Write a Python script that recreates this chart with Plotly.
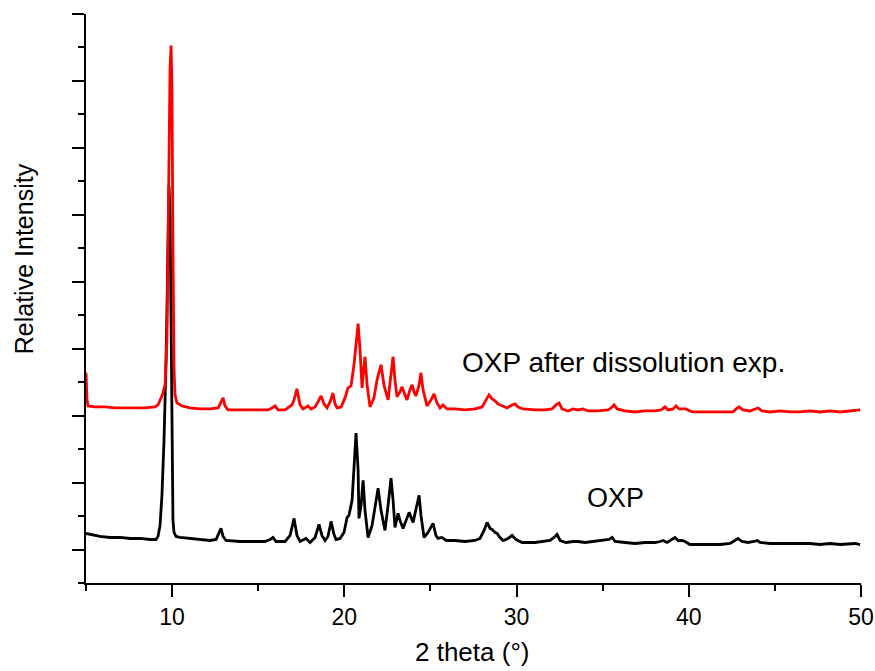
import plotly.graph_objects as go

# ---- data (2theta in degrees, intensity in arbitrary counts) ----
oxp_2theta = [5.00, 5.23, 5.52, 5.81, 6.39, 6.97, 7.56, 8.14, 8.72, 9.06, 9.18, 9.30, 9.41, 9.53, 9.65, 9.70,
              9.76, 9.82, 9.88, 9.94, 9.99, 10.05, 10.11, 10.23, 10.46, 11.04, 11.62, 12.20, 12.55, 12.72, 12.84,
              12.96, 13.13, 13.94, 14.81, 15.39, 15.69, 15.86, 16.03, 16.56, 16.85, 17.08, 17.25, 17.43, 17.78,
              18.01, 18.30, 18.53, 18.70, 18.88, 19.05, 19.23, 19.40, 19.52, 19.75, 19.98, 20.16, 20.27, 20.45,
              20.68, 20.80, 20.85, 20.97, 21.09, 21.20, 21.38, 21.61, 21.78, 21.96, 22.13, 22.36, 22.54, 22.71,
              22.83, 22.94, 23.12, 23.23, 23.41, 23.58, 23.76, 23.99, 24.16, 24.34, 24.45, 24.63, 24.86, 24.98,
              25.15, 25.32, 25.44, 25.67, 25.91, 26.43, 27.01, 27.59, 27.88, 28.11, 28.29, 28.46, 28.58, 28.75,
              28.87, 29.04, 29.22, 29.51, 29.74, 29.97, 30.32, 31.07, 31.65, 31.94, 32.18, 32.35, 32.53, 32.87,
              33.28, 33.57, 33.98, 34.56, 35.14, 35.37, 35.55, 35.72, 36.30, 36.88, 37.46, 38.04, 38.33, 38.51,
              38.74, 39.03, 39.20, 39.38, 39.61, 39.78, 40.07, 40.66, 41.24, 41.82, 42.40, 42.69, 42.86, 43.09,
              43.44, 43.79, 43.97, 44.14, 44.72, 45.30, 45.88, 46.46, 47.04, 47.62, 48.20, 48.79, 49.37, 49.66,
              49.95]
oxp_intensity = [240, 225, 210, 195, 180, 180, 165, 165, 150, 150, 195, 360, 810, 1635, 2835, 3735,
                 4785, 5430, 5010, 3285, 1335, 435, 255, 195, 180, 165, 150, 135, 150, 240, 315,
                 195, 135, 120, 120, 120, 150, 180, 120, 120, 210, 465, 210, 120, 165,
                 105, 180, 375, 210, 135, 195, 420, 225, 150, 165, 255, 480, 510, 735,
                 1740, 1185, 465, 660, 1035, 585, 180, 360, 660, 915, 585, 285, 660, 1065,
                 735, 330, 540, 435, 315, 435, 555, 405, 585, 810, 510, 180, 255, 315,
                 390, 210, 165, 180, 135, 135, 120, 135, 165, 285, 405, 315, 300, 255,
                 240, 180, 135, 165, 210, 150, 105, 105, 120, 135, 180, 225, 135, 105,
                 120, 120, 105, 120, 135, 150, 180, 120, 105, 90, 105, 105, 120, 135,
                 105, 150, 180, 135, 135, 120, 75, 75, 75, 75, 90, 135, 165, 120,
                 105, 120, 135, 105, 90, 90, 90, 90, 90, 75, 90, 75, 90, 90,
                 75]

after_2theta = [5.00, 5.06, 5.12, 5.52, 6.10, 6.68, 7.26, 7.85, 8.43, 9.01, 9.18, 9.36, 9.47, 9.59, 9.70,
                9.76, 9.82, 9.88, 9.94, 9.99, 10.05, 10.11, 10.17, 10.28, 10.57, 11.04, 11.62, 12.20, 12.67,
                12.84, 12.96, 13.07, 13.25, 13.94, 14.81, 15.57, 15.80, 15.98, 16.15, 16.56, 16.96, 17.08,
                17.25, 17.43, 17.60, 17.89, 18.07, 18.30, 18.47, 18.65, 18.82, 18.99, 19.17, 19.34, 19.46,
                19.58, 19.81, 20.04, 20.21, 20.39, 20.56, 20.80, 20.91, 21.03, 21.09, 21.20, 21.32, 21.49,
                21.72, 21.90, 22.13, 22.30, 22.54, 22.65, 22.83, 22.94, 23.06, 23.23, 23.35, 23.52, 23.64,
                23.81, 23.93, 24.05, 24.16, 24.34, 24.45, 24.57, 24.80, 25.03, 25.21, 25.38, 25.56, 25.73,
                25.96, 26.43, 27.01, 27.59, 28.00, 28.23, 28.40, 28.58, 28.75, 28.92, 29.16, 29.45, 29.74,
                29.91, 30.09, 30.38, 31.07, 31.65, 32.06, 32.29, 32.47, 32.64, 32.99, 33.28, 33.57, 33.86,
                34.15, 34.73, 35.31, 35.49, 35.66, 35.84, 36.30, 36.88, 37.46, 38.04, 38.39, 38.62, 38.80,
                39.09, 39.26, 39.44, 39.67, 39.84, 40.07, 40.25, 40.95, 41.82, 42.57, 42.75, 42.92, 43.15,
                43.56, 43.85, 44.02, 44.25, 44.72, 45.30, 45.88, 46.46, 47.04, 47.62, 48.20, 48.79, 49.37,
                49.66, 49.95]
after_intensity = [2640, 2235, 2145, 2130, 2130, 2115, 2115, 2115, 2115, 2130, 2160, 2265, 2340, 2460, 3135,
                   4485, 5985, 7185, 7530, 6885, 4485, 2685, 2310, 2190, 2145, 2115, 2100, 2100, 2115,
                   2205, 2265, 2145, 2085, 2085, 2085, 2085, 2115, 2145, 2085, 2085, 2160, 2235,
                   2400, 2160, 2100, 2145, 2100, 2130, 2205, 2295, 2175, 2115, 2205, 2340, 2175,
                   2115, 2130, 2265, 2415, 2445, 2760, 3375, 2985, 2415, 2610, 2880, 2460, 2130,
                   2265, 2535, 2760, 2460, 2235, 2505, 2880, 2535, 2280, 2355, 2430, 2310, 2235,
                   2385, 2460, 2355, 2295, 2460, 2640, 2385, 2145, 2235, 2325, 2190, 2115, 2160,
                   2100, 2100, 2085, 2100, 2130, 2235, 2310, 2250, 2220, 2175, 2145, 2115, 2160,
                   2175, 2130, 2100, 2085, 2085, 2100, 2160, 2190, 2100, 2070, 2100, 2085, 2100,
                   2070, 2070, 2085, 2115, 2160, 2100, 2070, 2055, 2070, 2070, 2085, 2130, 2085,
                   2100, 2145, 2100, 2100, 2100, 2070, 2055, 2055, 2055, 2055, 2100, 2130, 2085,
                   2070, 2100, 2115, 2070, 2055, 2070, 2055, 2055, 2070, 2055, 2070, 2055, 2070,
                   2085, 2085]

x_ticks = [10, 20, 30, 40, 50]
x_tick_labels = ["10", "20", "30", "40", "50"]
labels = {"oxp": "OXP", "after": "OXP after dissolution exp."}

FONT = "Liberation Sans, Arial, sans-serif"
TICKFONT = "Liberation Sans Narrow, Arial Narrow, Liberation Sans, Arial, sans-serif"

fig = go.Figure()
fig.add_trace(go.Scatter(x=oxp_2theta, y=oxp_intensity, mode="lines", name=labels["oxp"],
                         line=dict(color="#000000", width=2.8), showlegend=False))
fig.add_trace(go.Scatter(x=after_2theta, y=after_intensity, mode="lines", name=labels["after"],
                         line=dict(color="#ff0000", width=2.8), showlegend=False))

fig.add_annotation(x=26.72, y=2790, xref="x", yref="y", text=labels["after"], showarrow=False,
                   xanchor="left", yanchor="middle", font=dict(family=FONT, size=28, color="#000000"))
fig.add_annotation(x=35.72, y=765, xref="x", yref="y", text=labels["oxp"], showarrow=False,
                   xanchor="center", yanchor="middle", font=dict(family=FONT, size=27, color="#000000"))
fig.add_annotation(x=-0.080, y=0.569, xref="paper", yref="paper", text="Relative Intensity",
                   showarrow=False, textangle=-90, xanchor="center", yanchor="middle",
                   font=dict(family=FONT, size=25, color="#000000"))
fig.add_annotation(x=0.498, y=-0.121, xref="paper", yref="paper", text="2 theta (°)",
                   showarrow=False, xanchor="center", yanchor="middle",
                   font=dict(family=FONT, size=26, color="#000000"))

fig.update_layout(
    width=875, height=671,
    margin=dict(l=86, r=14, t=14, b=88, autoexpand=False),
    paper_bgcolor="white", plot_bgcolor="white",
    xaxis=dict(range=[5, 50], tickmode="array", tickvals=x_ticks, ticktext=x_tick_labels,
               automargin=False,
               ticks="outside", ticklen=12, tickwidth=2, tickcolor="#000000",
               showline=True, linecolor="#000000", linewidth=2, showgrid=False, zeroline=False,
               tickfont=dict(family=TICKFONT, size=23, color="#000000"),
               minor=dict(tickmode="linear", tick0=0, dtick=5, ticks="outside", ticklen=6,
                          tickwidth=2, tickcolor="#000000", showgrid=False)),
    yaxis=dict(range=[-500, 8000], tickmode="linear", tick0=0, dtick=1000,
               automargin=False,
               ticks="outside", ticklen=12, tickwidth=2, tickcolor="#000000",
               showline=True, linecolor="#000000", linewidth=2, showgrid=False, zeroline=False,
               showticklabels=False,
               minor=dict(tickmode="linear", tick0=-500, dtick=1000, ticks="outside", ticklen=6,
                          tickwidth=2, tickcolor="#000000", showgrid=False)),
)

fig.write_html("out.html")
